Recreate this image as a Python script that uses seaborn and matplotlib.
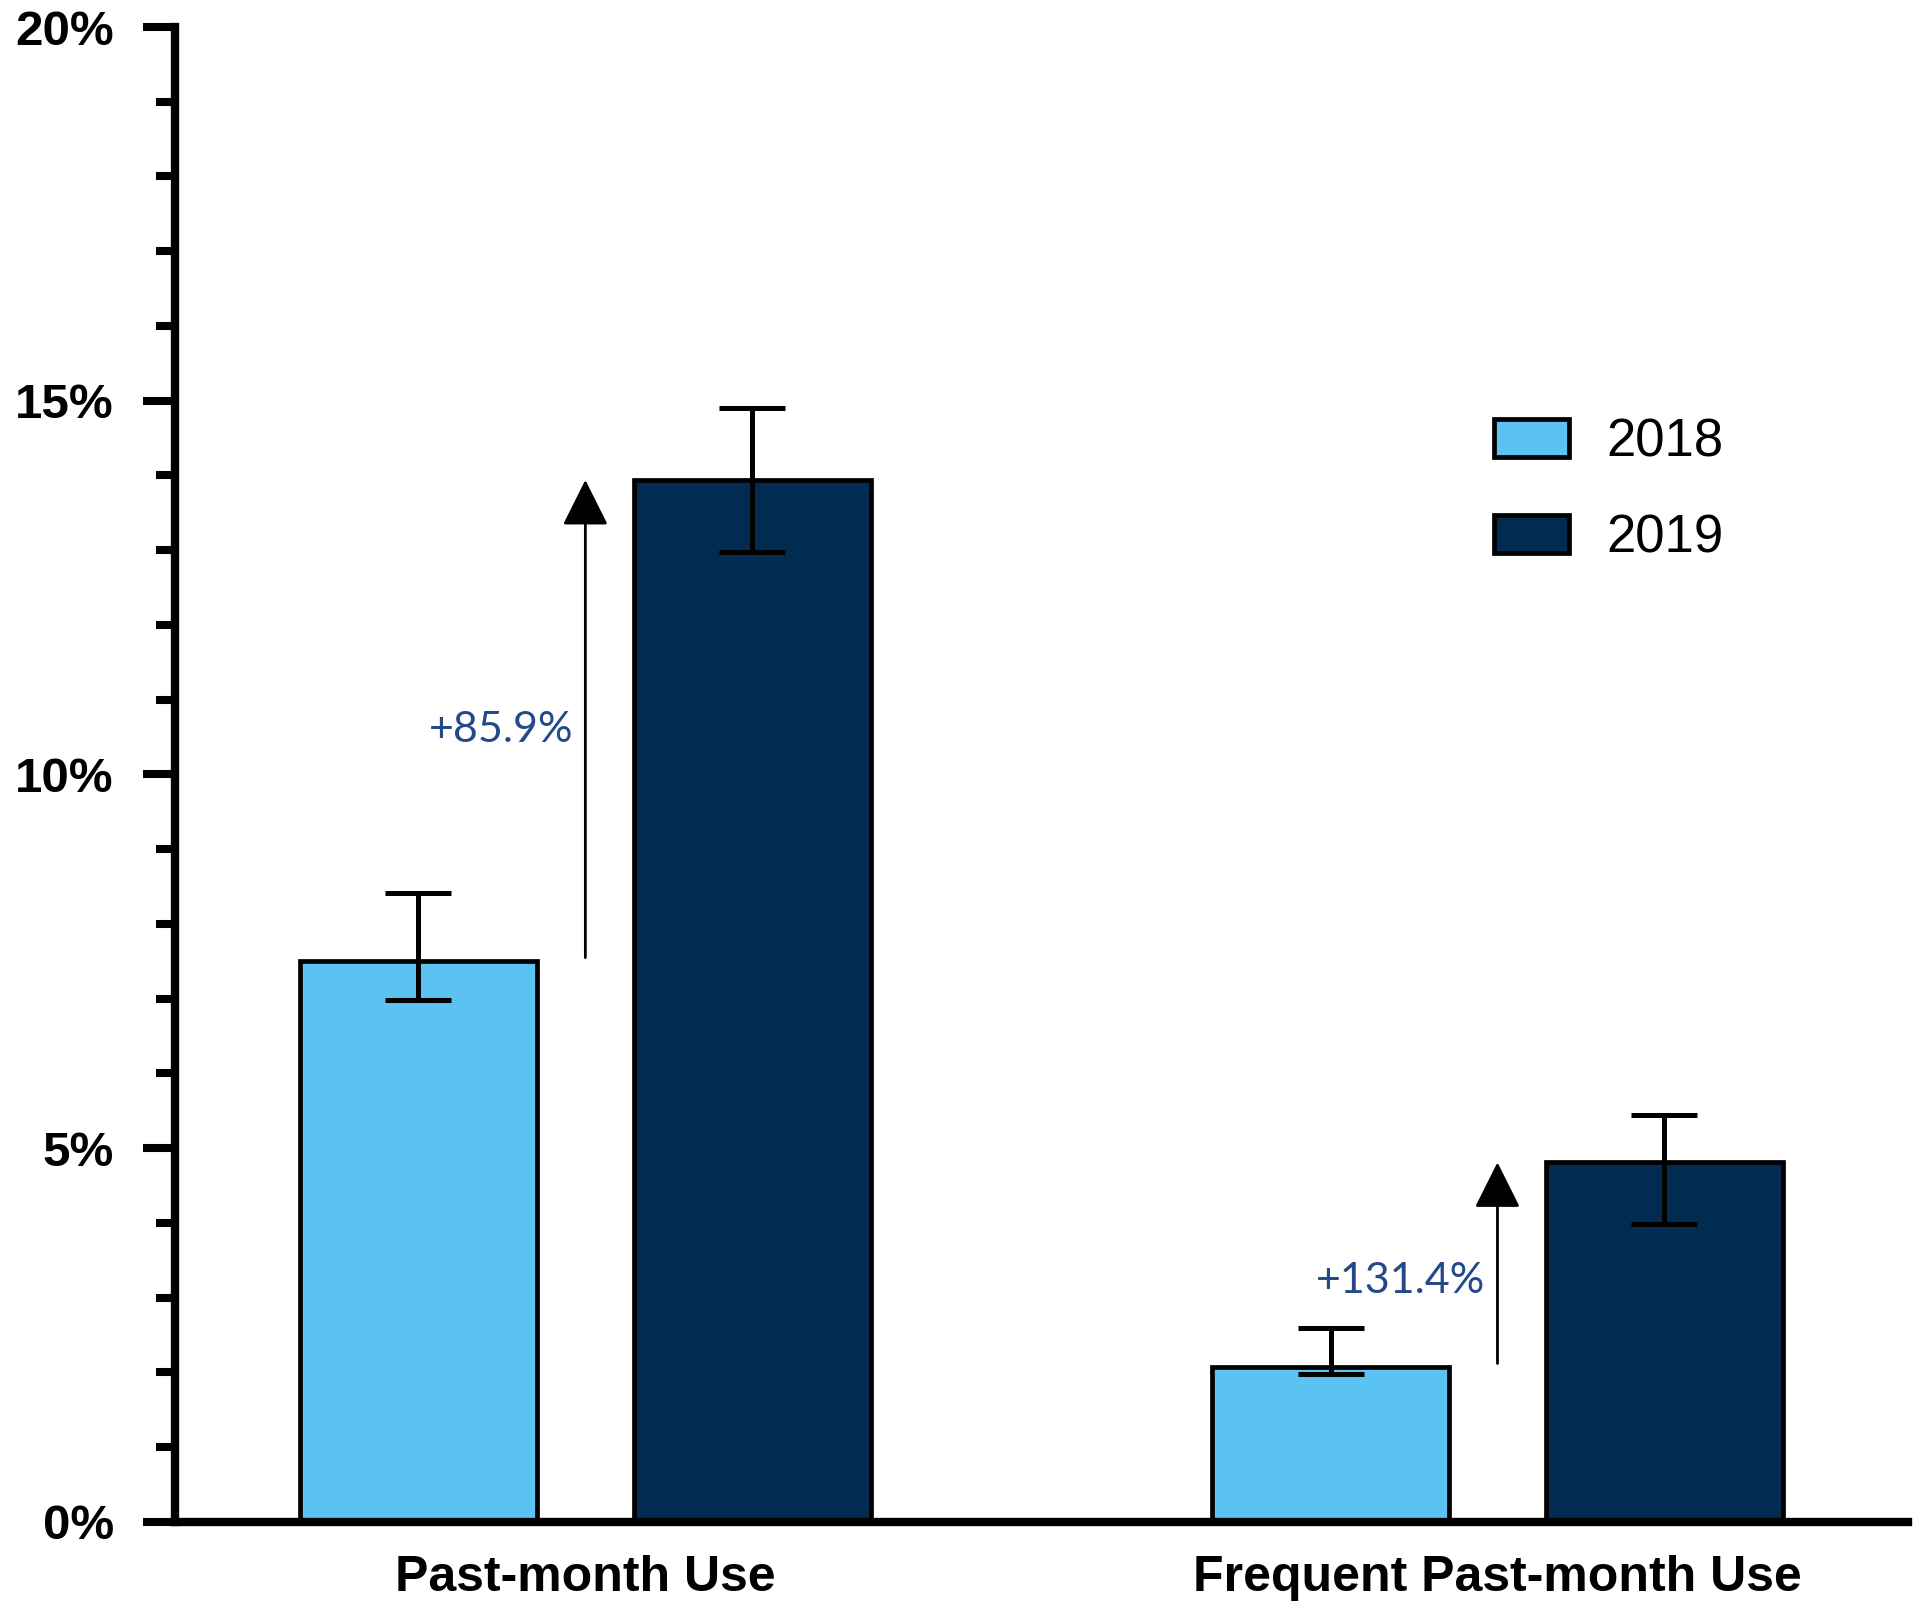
import matplotlib
matplotlib.use("Agg")
import matplotlib.pyplot as plt
from matplotlib.ticker import MultipleLocator, FixedLocator
import seaborn as sns
import pandas as pd

# ---- data ----
categories = ["Past-month Use", "Frequent Past-month Use"]
years = ["2018", "2019"]
values_2018 = [7.50, 2.07]
values_2019 = [13.94, 4.81]
ci_low_2018 = [6.98, 1.98]
ci_high_2018 = [8.41, 2.59]
ci_low_2019 = [12.98, 3.98]
ci_high_2019 = [14.90, 5.44]
change_labels = ["+85.9%", "+131.4%"]
change_label_y = [10.6, 3.22]
y_ticks = [0, 5, 10, 15, 20]
y_tick_labels = ["0%", "5%", "10%", "15%", "20%"]

colors = ["#5BC3F2", "#022B52"]

sns.set_style("white")
plt.rcParams["font.family"] = ["Liberation Sans", "DejaVu Sans"]
plt.rcParams["text.color"] = "black"
plt.rcParams["xtick.color"] = "black"
plt.rcParams["ytick.color"] = "black"

df = pd.DataFrame({
    "category": categories * 2,
    "year": [years[0]] * 2 + [years[1]] * 2,
    "value": values_2018 + values_2019,
})

fig = plt.figure(figsize=(19.2, 16.17), dpi=100)
ax = fig.add_axes([0.0911, 0.0588, 0.9026, 0.9245])

sns.barplot(data=df, x="category", y="value", hue="year", order=categories,
            hue_order=years, palette=colors, saturation=1, width=0.732, gap=0.29,
            edgecolor="black", linewidth=3.4, errorbar=None, ax=ax, zorder=2)

bar_containers = list(ax.containers)

# error bars on bar centres
lows = [ci_low_2018, ci_low_2019]
highs = [ci_high_2018, ci_high_2019]
vals = [values_2018, values_2019]
for i, cont in enumerate(bar_containers):
    xs = [p.get_x() + p.get_width() / 2 for p in cont.patches]
    v = vals[i]
    yerr = [[v[j] - lows[i][j] for j in range(len(v))],
            [highs[i][j] - v[j] for j in range(len(v))]]
    ax.errorbar(xs, v, yerr=yerr, fmt="none", ecolor="black",
                elinewidth=3.6, capsize=24, capthick=3.6, zorder=3)

# arrows and change labels
for j in range(len(categories)):
    ax.annotate("", xy=(j, values_2019[j]), xytext=(j, values_2018[j] + 0.05),
                arrowprops=dict(arrowstyle="-|>,head_length=0.4,head_width=0.2",
                                mutation_scale=72, lw=2, color="black",
                                shrinkA=0, shrinkB=0), zorder=4)
    ax.text(j - 0.013, change_label_y[j], change_labels[j], ha="right",
            va="center", color="#24498A", fontsize=31,
            family=["Lato", "DejaVu Sans"])

ax.set_xlim(-0.45, 1.45)
ax.set_ylim(0, 20)
ax.yaxis.set_major_locator(FixedLocator(y_ticks))
ax.set_yticklabels(y_tick_labels)
ax.yaxis.set_minor_locator(MultipleLocator(1))
ax.tick_params(axis="y", which="major", length=23, width=5.8, pad=21,
               labelsize=35.5, left=True, colors="black")
ax.tick_params(axis="y", which="minor", length=14, width=5.8, left=True,
               colors="black")
ax.tick_params(axis="x", length=0, pad=24, labelsize=36, colors="black")
for lab in ax.get_yticklabels() + ax.get_xticklabels():
    lab.set_fontweight("bold")

ax.set_xlabel("")
ax.set_ylabel("")
for s in ["top", "right"]:
    ax.spines[s].set_visible(False)
for s in ["left", "bottom"]:
    ax.spines[s].set_linewidth(6)
    ax.spines[s].set_color("black")
    ax.spines[s].set_zorder(5)

handles, labels = ax.get_legend_handles_labels()
leg = ax.legend(handles, labels, loc="upper left", bbox_to_anchor=(0.761, 0.739),
                frameon=False, fontsize=38, handlelength=1.42, handleheight=0.74,
                handletextpad=0.72, labelspacing=0.87, borderpad=0,
                borderaxespad=0)
for t in leg.get_texts():
    t.set_color("black")

fig.savefig("out.png", dpi=100, facecolor="white")
